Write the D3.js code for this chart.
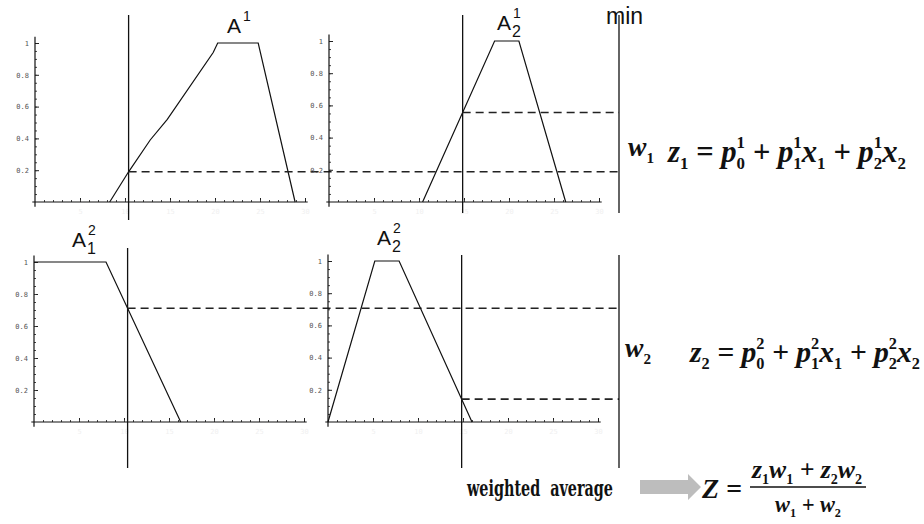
<!DOCTYPE html>
<html>
<head>
<meta charset="utf-8">
<script src="https://cdn.jsdelivr.net/npm/d3@7"></script>
<style>
  body { margin: 0; background: #fff; }
  svg { display: block; }
  .ytick text { font-family: "DejaVu Sans Mono", monospace; font-size: 7px; fill: #555; }
  .xtick text { font-family: "DejaVu Sans Mono", monospace; font-size: 7px; fill: #f0f0f0; }
  .lbl { font-family: "Liberation Sans", Arial, sans-serif; fill: #111; }
  .math { font-family: "Liberation Serif", "Times New Roman", serif; font-weight: bold; font-style: italic; fill: #111; }
</style>
</head>
<body>
<div id="chart"></div>
<script>
// Regras fuzzy (Sugeno) - funções de pertinência lidas da figura
// eixo x de cada painel: 0..30, eixo y: grau de pertinência 0..1

const yTicks = [0.2, 0.4, 0.6, 0.8, 1];
const xMajorTicks = [5, 10, 15, 20, 25, 30];
const inputs = [10.4, 14.85];            // x1, x2 (linhas verticais)

// regra 1
const r1a1X = [8.3, 10.4, 12.8, 14.7, 19.8, 20.3, 24.8, 28.9];
const r1a1Mu = [0, 0.19, 0.39, 0.52, 0.94, 1, 1, 0];
const r1a2X = [10.4, 18.4, 21.1, 26.3];
const r1a2Mu = [0, 1, 1, 0];
// regra 2
const r2a1X = [0, 8.0, 16.3];
const r2a1Mu = [1, 1, 0];
const r2a2X = [0, 5.2, 7.9, 16.0];
const r2a2Mu = [0, 1, 1, 0];

const width = 924, height = 524;
const minX = 619;   // linha "min"
const SP = '\u00a0'; // espaço que não colapsa no SVG

const svg = d3.select('#chart').append('svg')
  .attr('width', width)
  .attr('height', height);

svg.append('rect').attr('width', width).attr('height', height).attr('fill', '#fff');

// pertinência no ponto de entrada (interpolação linear entre os vértices)
function muAt(xs, mus, x) {
  for (let i = 0; i < xs.length - 1; i++) {
    if (x >= xs[i] && x <= xs[i + 1]) {
      const t = (x - xs[i]) / (xs[i + 1] - xs[i]);
      return mus[i] + t * (mus[i + 1] - mus[i]);
    }
  }
  return 0;
}

// painéis: posição em pixels (layout)
const panels = [
  { xs: r1a1X, mus: r1a1Mu, input: inputs[0], xr: [35, 305], yr: [202, 43], vline: [15, 220] },
  { xs: r1a2X, mus: r1a2Mu, input: inputs[1], xr: [329, 599], yr: [202, 41], vline: [15, 213] },
  { xs: r2a1X, mus: r2a1Mu, input: inputs[0], xr: [34, 304], yr: [422, 262], vline: [248, 468] },
  { xs: r2a2X, mus: r2a2Mu, input: inputs[1], xr: [328, 598], yr: [422, 261], vline: [255, 468] }
];

panels.forEach(p => {
  const x = d3.scaleLinear().domain([0, 30]).range(p.xr);
  const y = d3.scaleLinear().domain([0, 1]).range(p.yr);
  const g = svg.append('g');

  // eixo y (ticks para dentro, rótulos à esquerda)
  const yAxis = g.append('g')
    .attr('class', 'ytick')
    .attr('transform', `translate(${x(0)},0)`)
    .call(d3.axisLeft(y).tickValues(yTicks).tickSize(-4).tickPadding(6).tickFormat(d3.format('~g')));
  yAxis.select('.domain').remove();
  yAxis.selectAll('line').attr('stroke', '#222');
  const yMinor = g.append('g')
    .attr('transform', `translate(${x(0)},0)`)
    .call(d3.axisLeft(y).tickValues(d3.range(0.05, 1.0, 0.05)).tickSize(-2).tickFormat(''));
  yMinor.select('.domain').remove();
  yMinor.selectAll('line').attr('stroke', '#444');

  // eixo x
  const xAxis = g.append('g')
    .attr('class', 'xtick')
    .attr('transform', `translate(0,${y(0)})`)
    .call(d3.axisBottom(x).tickValues(xMajorTicks).tickSize(-4).tickPadding(7));
  xAxis.select('.domain').remove();
  xAxis.selectAll('line').attr('stroke', '#222');
  const xMinor = g.append('g')
    .attr('transform', `translate(0,${y(0)})`)
    .call(d3.axisBottom(x).tickValues(d3.range(1, 30, 1)).tickSize(-2).tickFormat(''));
  xMinor.select('.domain').remove();
  xMinor.selectAll('line').attr('stroke', '#444');

  // linhas dos eixos
  g.append('line')
    .attr('x1', x(0)).attr('x2', x(0))
    .attr('y1', y(-0.03)).attr('y2', y(1.04))
    .attr('stroke', '#111').attr('stroke-width', 1.2);
  g.append('line')
    .attr('x1', x(-0.3)).attr('x2', x(30.3))
    .attr('y1', y(0)).attr('y2', y(0))
    .attr('stroke', '#111').attr('stroke-width', 1.2);

  // função de pertinência
  const line = d3.line().x(d => x(d)).y((d, i) => y(p.mus[i]));
  g.append('path')
    .datum(p.xs)
    .attr('d', line)
    .attr('fill', 'none')
    .attr('stroke', '#111')
    .attr('stroke-width', 1.2);

  // linha vertical da entrada
  g.append('line')
    .attr('x1', x(p.input)).attr('x2', x(p.input))
    .attr('y1', p.vline[0]).attr('y2', p.vline[1])
    .attr('stroke', '#111').attr('stroke-width', 1.3);

  // linha tracejada do grau de pertinência até a linha "min"
  const m = muAt(p.xs, p.mus, p.input);
  g.append('line')
    .attr('x1', x(p.input)).attr('x2', minX)
    .attr('y1', y(m)).attr('y2', y(m))
    .attr('stroke', '#222')
    .attr('stroke-width', 1.6)
    .attr('stroke-dasharray', '8,5');
});

// linhas "min"
svg.append('line').attr('x1', minX).attr('x2', minX).attr('y1', 15).attr('y2', 213)
  .attr('stroke', '#111').attr('stroke-width', 1.3);
svg.append('line').attr('x1', minX).attr('x2', minX).attr('y1', 255).attr('y2', 468)
  .attr('stroke', '#111').attr('stroke-width', 1.3);

// rótulos dos conjuntos fuzzy
function setLabel(xp, yp, sup, sub) {
  const t = svg.append('g').attr('class', 'lbl');
  t.append('text').attr('x', xp).attr('y', yp).attr('font-size', 21).text('A');
  if (sup) t.append('text').attr('x', xp + 16).attr('y', yp - 12).attr('font-size', 14).text(sup);
  if (sub) t.append('text').attr('x', xp + 15).attr('y', yp + 7).attr('font-size', 16).text(sub);
}
setLabel(227, 33, '1', null);
setLabel(497, 30, '1', '2');
setLabel(72, 247, '2', '1');
setLabel(377, 245, '2', '2');

svg.append('text').attr('class', 'lbl')
  .attr('x', 606).attr('y', 24).attr('font-size', 23).text('min');

// fórmulas: partes {t, sub, sup}; ajusta o tamanho para ocupar a largura alvo
function mathText(x0, y0, fs, parts, target) {
  const g = svg.append('g').attr('class', 'math');
  function layout(f) {
    g.selectAll('*').remove();
    let cx = x0;
    parts.forEach(p => {
      const main = g.append('text').attr('x', cx).attr('y', y0).attr('font-size', f).text(p.t);
      cx += main.node().getComputedTextLength();
      let w = 0;
      if (p.sub) {
        const s = g.append('text').attr('x', cx).attr('y', y0 + f * 0.24)
          .attr('font-size', f * 0.55).attr('font-style', 'normal').text(p.sub);
        w = Math.max(w, s.node().getComputedTextLength());
      }
      if (p.sup) {
        const s = g.append('text').attr('x', cx).attr('y', y0 - f * 0.45)
          .attr('font-size', f * 0.55).attr('font-style', 'normal').text(p.sup);
        w = Math.max(w, s.node().getComputedTextLength());
      }
      cx += w;
    });
    return cx - x0;
  }
  const w = layout(fs);
  if (target) layout(fs * target / w);
}

mathText(628, 156, 24, [{ t: 'w', sub: '1' }], 26);
mathText(625, 357, 24, [{ t: 'w', sub: '2' }], 26);

mathText(668, 162, 24, [
  { t: 'z', sub: '1' }, { t: SP + '=' + SP }, { t: 'p', sub: '0', sup: '1' },
  { t: SP + '+' + SP }, { t: 'p', sub: '1', sup: '1' }, { t: 'x', sub: '1' },
  { t: SP + '+' + SP }, { t: 'p', sub: '2', sup: '1' }, { t: 'x', sub: '2' }
], 238);
mathText(690, 362, 24, [
  { t: 'z', sub: '2' }, { t: SP + '=' + SP }, { t: 'p', sub: '0', sup: '2' },
  { t: SP + '+' + SP }, { t: 'p', sub: '1', sup: '2' }, { t: 'x', sub: '1' },
  { t: SP + '+' + SP }, { t: 'p', sub: '2', sup: '2' }, { t: 'x', sub: '2' }
], 230);

// média ponderada
svg.append('text')
  .attr('x', 467).attr('y', 496)
  .attr('font-family', '"DejaVu Serif Condensed", "DejaVu Serif", serif')
  .attr('font-weight', 'bold')
  .attr('font-size', 22)
  .attr('textLength', 146)
  .attr('lengthAdjust', 'spacingAndGlyphs')
  .attr('fill', '#111')
  .text('weighted' + SP + SP + 'average');

// seta cinza
svg.append('path')
  .attr('d', 'M640,480 L688,480 L688,474 L701,487 L688,500 L688,494 L640,494 Z')
  .attr('fill', '#bdbdbd');

mathText(702, 498, 26, [{ t: 'Z' }, { t: SP + '=' }], 40);
mathText(752, 478, 22, [
  { t: 'z', sub: '1' }, { t: 'w', sub: '1' }, { t: SP + '+' + SP },
  { t: 'z', sub: '2' }, { t: 'w', sub: '2' }
], 110);
svg.append('line').attr('x1', 750).attr('x2', 866).attr('y1', 487).attr('y2', 487)
  .attr('stroke', '#111').attr('stroke-width', 1.5);
mathText(775, 512, 22, [
  { t: 'w', sub: '1' }, { t: SP + '+' + SP }, { t: 'w', sub: '2' }
], 66);
</script>
</body>
</html>
